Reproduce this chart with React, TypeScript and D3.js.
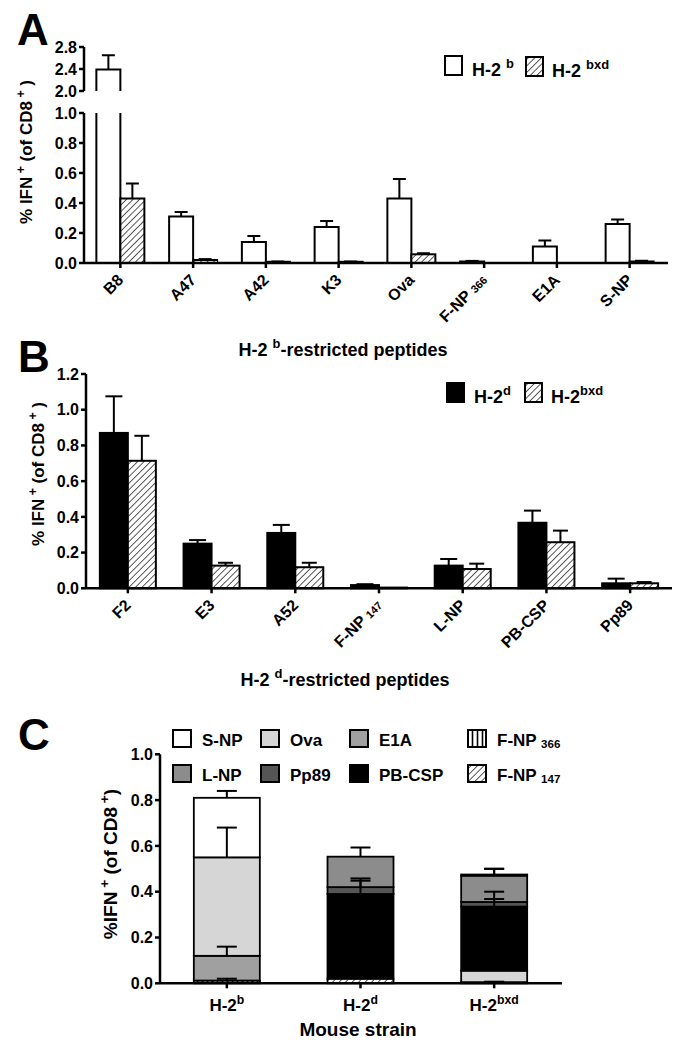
import React from "react";
import * as d3 from "d3";

const FONT = "Arial, 'Liberation Sans', Helvetica, sans-serif";

// ---------- Panel A data ----------
const catsA = ["B8", "A47", "A42", "K3", "Ova", "F-NP", "E1A", "S-NP"];
const catSubA = ["", "", "", "", "", "366", "", ""];
const h2bA = [2.39, 0.31, 0.14, 0.24, 0.43, 0.01, 0.11, 0.26];
const h2bErrA = [0.26, 0.03, 0.04, 0.04, 0.13, 0.004, 0.04, 0.03];
const bxdA = [0.43, 0.02, 0.008, 0.008, 0.058, 0, 0, 0.01];
const bxdErrA = [0.1, 0.006, 0.002, 0.002, 0.007, 0, 0, 0.005];
const ticksALow = [0, 0.2, 0.4, 0.6, 0.8, 1.0];
const ticksAUp = [2.0, 2.4, 2.8];

// ---------- Panel B data ----------
const catsB = ["F2", "E3", "A52", "F-NP", "L-NP", "PB-CSP", "Pp89"];
const catSubB = ["", "", "", "147", "", "", ""];
const h2dB = [0.87, 0.25, 0.31, 0.018, 0.127, 0.367, 0.028];
const h2dErrB = [0.205, 0.02, 0.045, 0.005, 0.037, 0.068, 0.026];
const bxdB = [0.714, 0.127, 0.118, 0.004, 0.108, 0.258, 0.028];
const bxdErrB = [0.14, 0.016, 0.025, 0, 0.03, 0.065, 0.007];
const ticksB = [0, 0.2, 0.4, 0.6, 0.8, 1.0, 1.2];

// ---------- Panel C data ----------
const strainsC = ["H-2b", "H-2d", "H-2bxd"];
const strainSupC = ["b", "d", "bxd"];
const keysC = ["F-NP366", "F-NP147", "E1A", "Ova", "PB-CSP", "Pp89", "L-NP", "S-NP"];
const fnp366C = [0.012, 0, 0];
const fnp147C = [0, 0.02, 0.005];
const e1aC = [0.108, 0, 0];
const ovaC = [0.43, 0, 0.05];
const pbcspC = [0, 0.37, 0.28];
const pp89C = [0, 0.03, 0.02];
const lnpC = [0, 0.133, 0.115];
const snpC = [0.26, 0, 0.005];
const fnp366ErrC = [0.008, 0, 0];
const fnp147ErrC = [0, 0.003, 0.002];
const e1aErrC = [0.04, 0, 0];
const ovaErrC = [0.13, 0, 0.004];
const pbcspErrC = [0, 0.068, 0.065];
const pp89ErrC = [0, 0.028, 0.013];
const lnpErrC = [0, 0.04, 0.03];
const snpErrC = [0.03, 0, 0.025];
const ticksC = [0, 0.2, 0.4, 0.6, 0.8, 1.0];

const fillC: Record<string, string> = {
  "F-NP366": "url(#vstripe)",
  "F-NP147": "url(#hatch)",
  E1A: "#a0a0a0",
  Ova: "#d6d6d6",
  "PB-CSP": "#000000",
  Pp89: "#555555",
  "L-NP": "#8c8c8c",
  "S-NP": "#ffffff",
};

type Part = { t: string; k?: "sup" | "sub" | "small" };

function Rich(props: {
  parts: Part[];
  size: number;
  anchor?: string;
  x?: number;
  y?: number;
  transform?: string;
  small?: number;
}) {
  const { parts, size, anchor = "start", x = 0, y = 0, transform, small = 0.72 } = props;
  let cur = 0;
  return (
    <text
      x={x}
      y={y}
      transform={transform}
      textAnchor={anchor}
      fontFamily={FONT}
      fontWeight="bold"
      fontSize={size}
      fill="#000"
      style={{ whiteSpace: "pre" }}
    >
      {parts.map((p, i) => {
        const target = p.k === "sup" ? -0.42 * size : p.k === "sub" ? 0.12 * size : 0;
        const dy = target - cur;
        cur = target;
        return (
          <tspan key={i} dy={dy} fontSize={p.k ? size * small : size}>
            {p.t}
          </tspan>
        );
      })}
    </text>
  );
}

function ErrBar({ x, y0, y1, w }: { x: number; y0: number; y1: number; w: number }) {
  return (
    <g stroke="#000" strokeWidth={2}>
      <line x1={x} x2={x} y1={y0} y2={y1} />
      <line x1={x - w / 2} x2={x + w / 2} y1={y1} y2={y1} />
    </g>
  );
}

function YAxis({ x, scale, ticks, y0, y1 }: { x: number; scale: any; ticks: number[]; y0: number; y1: number }) {
  return (
    <g>
      <line x1={x} x2={x} y1={y0} y2={y1} stroke="#000" strokeWidth={2.5} />
      {ticks.map((t) => (
        <g key={t}>
          <line x1={x - 5} x2={x} y1={scale(t)} y2={scale(t)} stroke="#000" strokeWidth={2.5} />
          <text
            x={x - 7}
            y={scale(t)}
            dy="0.36em"
            textAnchor="end"
            fontFamily={FONT}
            fontWeight="bold"
            fontSize={16}
          >
            {t.toFixed(1)}
          </text>
        </g>
      ))}
    </g>
  );
}

function CatLabels({ xs, names, subs, axisY }: { xs: number[]; names: string[]; subs: string[]; axisY: number }) {
  return (
    <g>
      {xs.map((cx, i) => (
        <g key={i}>
          <line x1={cx} x2={cx} y1={axisY} y2={axisY + 5} stroke="#000" strokeWidth={2.5} />
          <Rich
            transform={`translate(${cx + 4},${axisY + 18}) rotate(-45)`}
            anchor="end"
            size={16}
            small={0.68}
            parts={subs[i] ? [{ t: names[i] + " " }, { t: subs[i], k: "small" }] : [{ t: names[i] }]}
          />
        </g>
      ))}
    </g>
  );
}

export default function App() {
  // ---------- Panel A ----------
  const keysA = catsA.map((c, i) => c + catSubA[i]);
  const xA = d3.scaleBand<string>().domain(keysA).range([84, 666]);
  const yALow = d3.scaleLinear().domain([0, 1]).range([263, 113]);
  const yAUp = d3.scaleLinear().domain([2.0, 2.8]).range([91, 47]);
  const bwA = 24;
  const axisYA = yALow(0);
  const centersA = keysA.map((k) => (xA(k) as number) + xA.bandwidth() / 2);

  const barA = (x0: number, v: number, fill: string, key: string) => {
    const x1 = x0 + bwA;
    if (v <= 0) return null;
    if (v <= 1) {
      return (
        <rect key={key} x={x0} y={yALow(v)} width={bwA} height={yALow(0) - yALow(v)} fill={fill} stroke="#000" strokeWidth={2} />
      );
    }
    return (
      <g key={key}>
        <rect x={x0} y={yALow(1)} width={bwA} height={yALow(0) - yALow(1)} fill={fill} stroke="none" />
        <path d={`M${x0},${yALow(1)}V${yALow(0)}H${x1}V${yALow(1)}`} fill="none" stroke="#000" strokeWidth={2} />
        <rect x={x0} y={yAUp(v)} width={bwA} height={yAUp(2.0) - yAUp(v)} fill={fill} stroke="none" />
        <path d={`M${x0},${yAUp(2.0)}V${yAUp(v)}H${x1}V${yAUp(2.0)}`} fill="none" stroke="#000" strokeWidth={2} />
      </g>
    );
  };
  const yAof = (v: number) => (v <= 1 ? yALow(v) : yAUp(v));

  // ---------- Panel B ----------
  const keysB = catsB.map((c, i) => c + catSubB[i]);
  const xB = d3.scaleBand<string>().domain(keysB).range([86, 672]);
  const yB = d3.scaleLinear().domain([0, 1.2]).range([588.3, 374]);
  const bwB = 28;
  const axisYB = yB(0);
  const centersB = keysB.map((k) => (xB(k) as number) + xB.bandwidth() / 2);

  // ---------- Panel C ----------
  const xC = d3.scaleBand<string>().domain(strainsC).range([160, 561]);
  const yC = d3.scaleLinear().domain([0, 1]).range([983.3, 754.3]);
  const bwC = 66;
  const axisYC = yC(0);
  const valsC: Record<string, number[]> = {
    "F-NP366": fnp366C,
    "F-NP147": fnp147C,
    E1A: e1aC,
    Ova: ovaC,
    "PB-CSP": pbcspC,
    Pp89: pp89C,
    "L-NP": lnpC,
    "S-NP": snpC,
  };
  const errsC: Record<string, number[]> = {
    "F-NP366": fnp366ErrC,
    "F-NP147": fnp147ErrC,
    E1A: e1aErrC,
    Ova: ovaErrC,
    "PB-CSP": pbcspErrC,
    Pp89: pp89ErrC,
    "L-NP": lnpErrC,
    "S-NP": snpErrC,
  };
  const rowsC = strainsC.map((s, i) => {
    const r: any = { strain: s };
    keysC.forEach((k) => (r[k] = valsC[k][i]));
    return r;
  });
  const stackC = d3.stack<any>().keys(keysC)(rowsC);
  const centersC = strainsC.map((s) => (xC(s) as number) + xC.bandwidth() / 2);

  const legendC = [
    { k: "S-NP", name: "S-NP", sub: "", col: 0, row: 0 },
    { k: "Ova", name: "Ova", sub: "", col: 1, row: 0 },
    { k: "E1A", name: "E1A", sub: "", col: 2, row: 0 },
    { k: "F-NP366", name: "F-NP ", sub: "366", col: 3, row: 0 },
    { k: "L-NP", name: "L-NP", sub: "", col: 0, row: 1 },
    { k: "Pp89", name: "Pp89", sub: "", col: 1, row: 1 },
    { k: "PB-CSP", name: "PB-CSP", sub: "", col: 2, row: 1 },
    { k: "F-NP147", name: "F-NP ", sub: "147", col: 3, row: 1 },
  ];
  const legColX = [173, 261, 350, 468];
  const legRowY = [730, 765];

  return (
    <svg width={677} height={1050} style={{ position: "absolute", left: 0, top: 0, background: "#fff" }}>
      <defs>
        <pattern id="hatch" patternUnits="userSpaceOnUse" width={4.6} height={4.6} patternTransform="rotate(45)">
          <rect width={4.6} height={4.6} fill="#fff" />
          <line x1={0} y1={0} x2={0} y2={4.6} stroke="#000" strokeWidth={1.3} />
        </pattern>
        <pattern id="vstripe" patternUnits="userSpaceOnUse" width={5} height={5}>
          <rect width={5} height={5} fill="#fff" />
          <line x1={2.5} y1={0} x2={2.5} y2={5} stroke="#000" strokeWidth={1.6} />
        </pattern>
      </defs>
      <rect x={0} y={0} width={677} height={1050} fill="#fff" />

      {/* ================= Panel A ================= */}
      <text x={17} y={45} fontFamily={FONT} fontWeight="bold" fontSize={44}>A</text>
      <Rich
        transform="translate(32,152) rotate(-90)"
        anchor="middle"
        size={17}
        parts={[{ t: "% IFN" }, { t: " +", k: "sup" }, { t: " (of CD8" }, { t: " +", k: "sup" }, { t: " )" }]}
      />
      <YAxis x={84} scale={yAUp} ticks={ticksAUp} y0={yAUp(2.8)} y1={yAUp(2.0)} />
      <YAxis x={84} scale={yALow} ticks={ticksALow} y0={yALow(1)} y1={yALow(0)} />
      {centersA.map((cx, i) => (
        <g key={i}>
          {barA(cx - bwA, h2bA[i], "#fff", "b" + i)}
          {barA(cx, bxdA[i], "url(#hatch)", "x" + i)}
        </g>
      ))}
      {centersA.map((cx, i) => (
        <g key={"e" + i}>
          {h2bA[i] > 0 && h2bErrA[i] > 0 && (
            <ErrBar x={cx - bwA / 2} y0={yAof(h2bA[i])} y1={yAof(h2bA[i] + h2bErrA[i])} w={13} />
          )}
          {bxdA[i] > 0 && bxdErrA[i] > 0 && (
            <ErrBar x={cx + bwA / 2} y0={yAof(bxdA[i])} y1={yAof(bxdA[i] + bxdErrA[i])} w={13} />
          )}
        </g>
      ))}
      <line x1={84} x2={668} y1={axisYA} y2={axisYA} stroke="#000" strokeWidth={2.5} />
      <CatLabels xs={centersA} names={catsA} subs={catSubA} axisY={axisYA} />
      <Rich
        x={343}
        y={356}
        anchor="middle"
        size={18}
        parts={[{ t: "H-2 " }, { t: "b", k: "sup" }, { t: "-restricted peptides" }]}
      />
      {/* legend A */}
      <rect x={445} y={56} width={17} height={19} fill="#fff" stroke="#000" strokeWidth={2} />
      <Rich x={472} y={76} size={18} parts={[{ t: "H-2 " }, { t: "b", k: "sup" }]} />
      <rect x={526} y={57} width={17} height={19} fill="url(#hatch)" stroke="#000" strokeWidth={2} />
      <Rich x={552} y={77} size={18} parts={[{ t: "H-2 " }, { t: "bxd", k: "sup" }]} />

      {/* ================= Panel B ================= */}
      <text x={18} y={372} fontFamily={FONT} fontWeight="bold" fontSize={44}>B</text>
      <Rich
        transform="translate(44,474) rotate(-90)"
        anchor="middle"
        size={17}
        parts={[{ t: "% IFN" }, { t: " +", k: "sup" }, { t: " (of CD8" }, { t: " +", k: "sup" }, { t: " )" }]}
      />
      <YAxis x={86} scale={yB} ticks={ticksB} y0={yB(1.2)} y1={yB(0)} />
      {centersB.map((cx, i) => (
        <g key={i}>
          {h2dB[i] > 0 && (
            <rect x={cx - bwB} y={yB(h2dB[i])} width={bwB} height={yB(0) - yB(h2dB[i])} fill="#000" stroke="#000" strokeWidth={2} />
          )}
          {bxdB[i] > 0 && (
            <rect x={cx} y={yB(bxdB[i])} width={bwB} height={yB(0) - yB(bxdB[i])} fill="url(#hatch)" stroke="#000" strokeWidth={2} />
          )}
        </g>
      ))}
      {centersB.map((cx, i) => (
        <g key={"e" + i}>
          {h2dErrB[i] > 0 && <ErrBar x={cx - bwB / 2} y0={yB(h2dB[i])} y1={yB(h2dB[i] + h2dErrB[i])} w={17} />}
          {bxdErrB[i] > 0 && <ErrBar x={cx + bwB / 2} y0={yB(bxdB[i])} y1={yB(bxdB[i] + bxdErrB[i])} w={15} />}
        </g>
      ))}
      <line x1={86} x2={672} y1={axisYB} y2={axisYB} stroke="#000" strokeWidth={2.5} />
      <CatLabels xs={centersB} names={catsB} subs={catSubB} axisY={axisYB} />
      <Rich
        x={345}
        y={686}
        anchor="middle"
        size={18}
        parts={[{ t: "H-2 " }, { t: "d", k: "sup" }, { t: "-restricted peptides" }]}
      />
      {/* legend B */}
      <rect x={447} y={383} width={17} height={19} fill="#000" stroke="#000" strokeWidth={2} />
      <Rich x={474} y={403} size={18} parts={[{ t: "H-2" }, { t: "d", k: "sup" }]} />
      <rect x={525} y={383} width={17} height={19} fill="url(#hatch)" stroke="#000" strokeWidth={2} />
      <Rich x={551} y={403} size={18} parts={[{ t: "H-2" }, { t: "bxd", k: "sup" }]} />

      {/* ================= Panel C ================= */}
      <text x={18} y={750} fontFamily={FONT} fontWeight="bold" fontSize={44}>C</text>
      <Rich
        transform="translate(117,864) rotate(-90)"
        anchor="middle"
        size={19}
        parts={[{ t: "%IFN" }, { t: " +", k: "sup" }, { t: " (of CD8" }, { t: " +", k: "sup" }, { t: ")" }]}
      />
      <YAxis x={160} scale={yC} ticks={ticksC} y0={yC(1)} y1={yC(0)} />
      {stackC.map((s) =>
        s.map((d, i) => {
          const h = yC(d[0]) - yC(d[1]);
          if (h <= 0) return null;
          return (
            <rect
              key={s.key + i}
              x={centersC[i] - bwC / 2}
              y={yC(d[1])}
              width={bwC}
              height={h}
              fill={fillC[s.key]}
              stroke="#000"
              strokeWidth={1.8}
            />
          );
        })
      )}
      {stackC.map((s) =>
        s.map((d, i) => {
          const e = errsC[s.key][i];
          if (d[1] - d[0] <= 0 || e <= 0) return null;
          return <ErrBar key={"e" + s.key + i} x={centersC[i]} y0={yC(d[1])} y1={yC(d[1] + e)} w={20} />;
        })
      )}
      <line x1={160} x2={562} y1={axisYC} y2={axisYC} stroke="#000" strokeWidth={2.5} />
      {centersC.map((cx, i) => (
        <g key={"t" + i}>
          <line x1={cx} x2={cx} y1={axisYC} y2={axisYC + 5} stroke="#000" strokeWidth={2.5} />
          <Rich x={cx} y={1011} anchor="middle" size={17} parts={[{ t: "H-2" }, { t: strainSupC[i], k: "sup" }]} />
        </g>
      ))}
      <text x={358} y={1036} textAnchor="middle" fontFamily={FONT} fontWeight="bold" fontSize={19}>
        Mouse strain
      </text>
      {/* legend C */}
      {legendC.map((l) => (
        <g key={l.k}>
          <rect
            x={legColX[l.col]}
            y={legRowY[l.row]}
            width={18}
            height={17}
            fill={fillC[l.k]}
            stroke="#000"
            strokeWidth={2}
          />
          <Rich
            x={legColX[l.col] + 29}
            y={legRowY[l.row] + 16}
            size={17}
            small={0.68}
            parts={l.sub ? [{ t: l.name }, { t: l.sub, k: "sub" }] : [{ t: l.name }]}
          />
        </g>
      ))}
    </svg>
  );
}
